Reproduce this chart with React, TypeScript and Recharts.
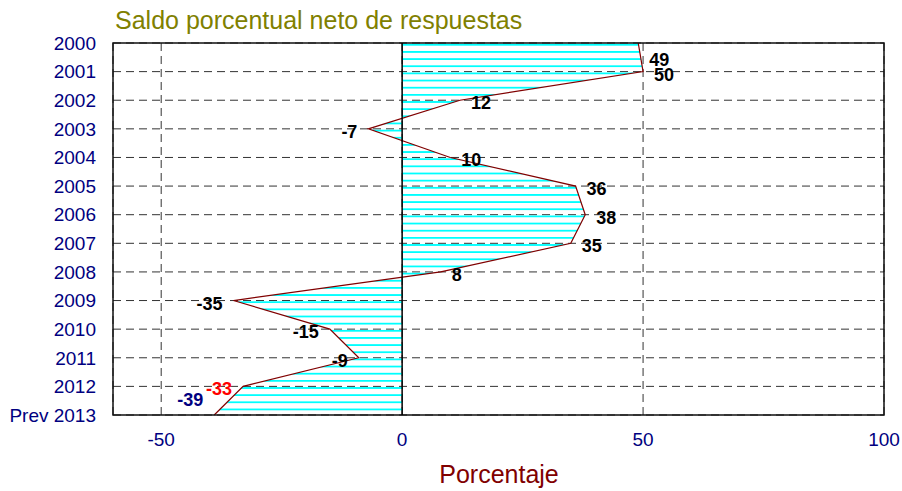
import { ComposedChart, Area, XAxis, YAxis, CartesianGrid, ReferenceLine, ReferenceArea, LabelList } from "recharts";

const years = ["2000", "2001", "2002", "2003", "2004", "2005", "2006", "2007", "2008", "2009", "2010", "2011", "2012", "Prev 2013"];
const saldo = [49, 50, 12, -7, 10, 36, 38, 35, 8, -35, -15, -9, -33, -39];
const xTicks = [-50, 0, 50, 100];

const data = years.map((year, i) => ({ year, saldo: saldo[i] }));

const FONT = "'Liberation Sans', Arial, sans-serif";
const labelColors: Record<string, string> = { "2012": "#ff0000", "Prev 2013": "#000080" };

const renderLabel = (p: any) => {
    const { x, y, value, index } = p;
    const v = Number(value);
    const last = years.length - 1;
    let dy = 9;
    if (index === 0) dy = 23;
    if (index === last) dy = -9;
    const neg = v < 0;
    return (
        <text
            x={neg ? x - 11 : x + 11}
            y={y + dy}
            textAnchor={neg ? "end" : "start"}
            fontFamily={FONT}
            fontSize={18}
            fontWeight="bold"
            fill={labelColors[years[index]] || "#000"}
        >
            {v}
        </text>
    );
};

export default function App() {
    return (
        <div style={{ position: "absolute", left: 0, top: 0, width: 902, height: 491, background: "#fff" }}>
            <ComposedChart width={902} height={491} data={data} layout="vertical" margin={{ top: 43, right: 18, bottom: 36, left: 13 }}>
                <defs>
                    <pattern id="hatch" patternUnits="userSpaceOnUse" x={0} y={43} width={10} height={7.15}>
                        <rect x={0} y={1.2} width={10} height={1.2} fill="#00ffff" shapeRendering="crispEdges" />
                    </pattern>
                </defs>
                <text x={115} y={29} fontFamily={FONT} fontSize={25} fill="#808000">Saldo porcentual neto de respuestas</text>
                <text x={499} y={483} textAnchor="middle" fontFamily={FONT} fontSize={25} fill="#800000">Porcentaje</text>
                <CartesianGrid stroke="#333" strokeDasharray="8 5" />
                <XAxis
                    type="number"
                    domain={[-60, 100]}
                    ticks={xTicks}
                    height={40}
                    tickSize={0}
                    tickMargin={18}
                    axisLine={false}
                    tickLine={false}
                    tick={{ fill: "#000080", fontSize: 19, fontFamily: FONT }}
                />
                <YAxis
                    type="category"
                    dataKey="year"
                    scale="point"
                    width={100}
                    tickSize={0}
                    tickMargin={17}
                    axisLine={false}
                    tickLine={false}
                    interval={0}
                    tick={{ fill: "#000080", fontSize: 19, fontFamily: FONT }}
                />
                <Area
                    type="linear"
                    dataKey="saldo"
                    stroke="#800000"
                    strokeWidth={1.2}
                    fill="url(#hatch)"
                    fillOpacity={1}
                    baseValue={0}
                    isAnimationActive={false}
                    dot={false}
                    activeDot={false}
                >
                    <LabelList dataKey="saldo" content={renderLabel} />
                </Area>
                <ReferenceLine x={0} stroke="#000" strokeWidth={1.5} />
                <ReferenceArea x1={-60} x2={100} y1="2000" y2="Prev 2013" fill="none" stroke="#111" strokeWidth={1.5} ifOverflow="visible" />
            </ComposedChart>
        </div>
    );
}
